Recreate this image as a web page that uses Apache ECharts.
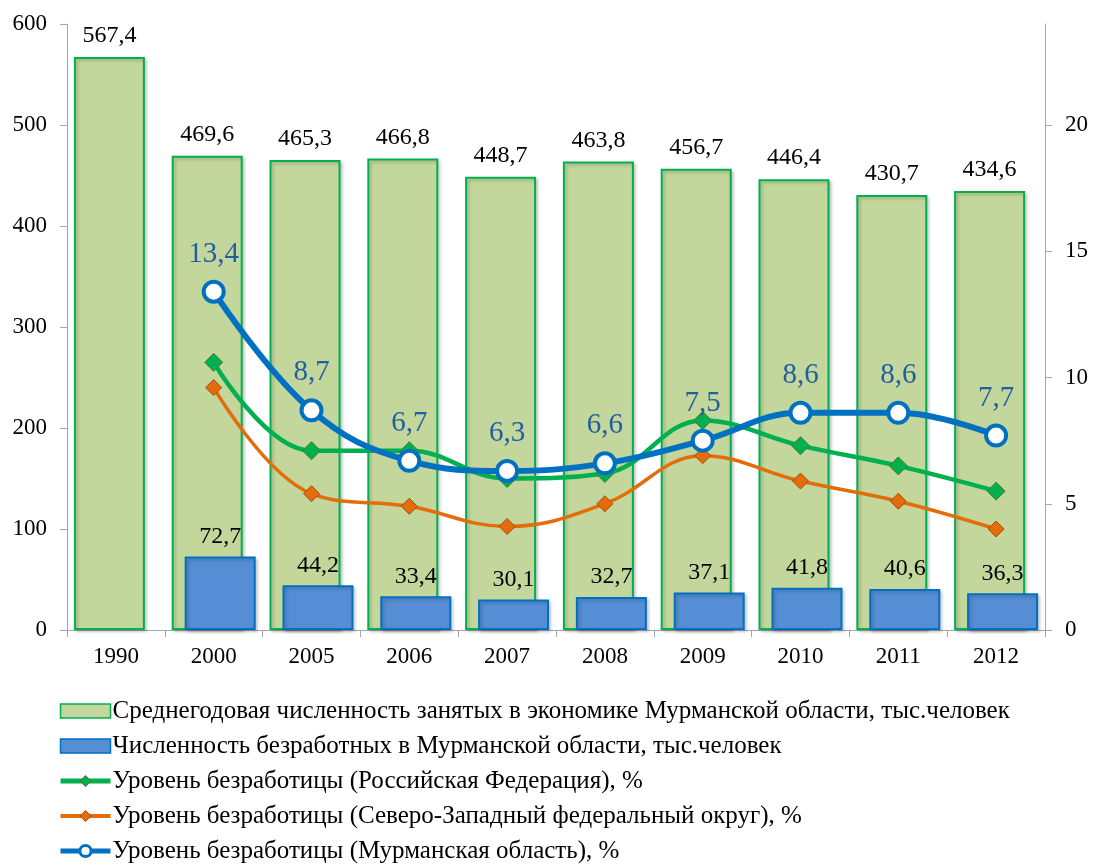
<!DOCTYPE html>
<html>
<head>
<meta charset="utf-8">
<script src="https://cdn.jsdelivr.net/npm/echarts@6/dist/echarts.min.js"></script>
<style>
html,body{margin:0;padding:0;background:#fff;}
#main{width:1093px;height:865px;}
</style>
</head>
<body>
<div id="main"></div>
<script>
// данные диаграммы
var years = ['1990','2000','2005','2006','2007','2008','2009','2010','2011','2012'];
var employed = [567.4,469.6,465.3,466.8,448.7,463.8,456.7,446.4,430.7,434.6];
var unemployed = [null,72.7,44.2,33.4,30.1,32.7,37.1,41.8,40.6,36.3];
var rateRF = [null,10.6,7.1,7.1,6.0,6.2,8.3,7.3,6.5,5.5];
var rateNW = [null,9.6,5.4,4.9,4.1,5.0,6.9,5.9,5.1,4.0];
var rateMurm = [null,13.4,8.7,6.7,6.3,6.6,7.5,8.6,8.6,7.7];
var leftTicks = [0,100,200,300,400,500,600];
var rightTicks = [0,5,10,15,20];

var names = [
	'Среднегодовая численность занятых в экономике Мурманской области, тыс.человек',
	'Численность безработных в Мурманской области, тыс.человек',
	'Уровень безработицы (Российская Федерация), %',
	'Уровень безработицы (Северо-Западный федеральный округ), %',
	'Уровень безработицы (Мурманская область), %'
];

var font = 'Liberation Serif';
function comma(p){
	return p.value.toFixed(1).replace('.', ',');
}

var myChart = echarts.init(document.getElementById('main'));

var options = {
	backgroundColor:'#fff',
	textStyle:{fontFamily:font},
	grid:{left:67,right:48,top:24,bottom:235},
	legend:{
		orient:'vertical',
		left:58,
		top:698,
		padding:0,
		itemWidth:50,
		itemHeight:14,
		itemGap:9,
		data:[
			{name:names[0],icon:'rect',itemStyle:{borderWidth:1.5}},
			{name:names[1],icon:'rect',itemStyle:{borderWidth:1.5}},
			{name:names[2],lineStyle:{width:5},itemStyle:{borderWidth:1}},
			{name:names[3],lineStyle:{width:4},itemStyle:{borderWidth:1}},
			{name:names[4],lineStyle:{width:5},itemStyle:{borderWidth:3}}
		],
		textStyle:{fontFamily:font,fontSize:25,lineHeight:26,color:'#000',padding:[0,0,0,-3]}
	},
	xAxis:{
		type:'category',
		data:years,
		axisLine:{lineStyle:{color:'#a6a6a6',width:1}},
		axisTick:{show:true,length:7,lineStyle:{color:'#a6a6a6'}},
		axisLabel:{fontFamily:font,fontSize:23,color:'#000',margin:15}
	},
	yAxis:[
		{
			type:'value',
			min:0,
			max:600,
			interval:100,
			splitLine:{show:false},
			axisLine:{show:true,lineStyle:{color:'#a6a6a6'}},
			axisTick:{show:true,length:7,lineStyle:{color:'#a6a6a6'},customValues:leftTicks},
			axisLabel:{fontFamily:font,fontSize:23,color:'#000',margin:20,customValues:leftTicks}
		},
		{
			type:'value',
			min:0,
			max:24,
			interval:5,
			splitLine:{show:false},
			axisLine:{show:true,lineStyle:{color:'#a6a6a6'}},
			axisTick:{show:true,length:7,lineStyle:{color:'#a6a6a6'},customValues:rightTicks},
			axisLabel:{fontFamily:font,fontSize:23,color:'#000',margin:20,customValues:rightTicks}
		}
	],
	series:[
		{
			name:names[0],
			type:'bar',
			data:employed,
			barWidth:71,
			barGap:'-81.7%',
			itemStyle:{color:'#c3d69b',borderColor:'#00b050',borderWidth:2,
				shadowColor:'rgba(0,0,0,0.2)',shadowBlur:3,shadowOffsetX:2,shadowOffsetY:2},
			label:{show:true,position:'top',distance:9,fontFamily:font,fontSize:24,color:'#000',formatter:comma},
			z:1
		},
		{
			name:names[1],
			type:'bar',
			data:unemployed,
			barWidth:71,
			itemStyle:{color:'#558ed5',borderColor:'#0070c0',borderWidth:2,
				shadowColor:'rgba(0,0,0,0.2)',shadowBlur:3,shadowOffsetX:2,shadowOffsetY:2},
			label:{show:true,position:'top',distance:8,fontFamily:font,fontSize:24,color:'#000',formatter:comma},
			z:2
		},
		{
			name:names[2],
			type:'line',
			yAxisIndex:1,
			data:rateRF,
			smooth:0.4,
			symbol:'diamond',
			symbolSize:18,
			lineStyle:{color:'#00b050',width:4.5},
			itemStyle:{color:'#00b050',borderColor:'#4f7a28',borderWidth:1},
			z:3
		},
		{
			name:names[3],
			type:'line',
			yAxisIndex:1,
			data:rateNW,
			smooth:0.4,
			symbol:'diamond',
			symbolSize:16,
			lineStyle:{color:'#e46c0a',width:3.5},
			itemStyle:{color:'#e46c0a',borderColor:'#a05010',borderWidth:1},
			z:3
		},
		{
			name:names[4],
			type:'line',
			yAxisIndex:1,
			data:rateMurm,
			smooth:0.4,
			symbol:'circle',
			symbolSize:20,
			lineStyle:{color:'#0070c0',width:6},
			itemStyle:{color:'#fff',borderColor:'#0070c0',borderWidth:4},
			label:{show:true,position:'top',distance:11,fontFamily:font,fontSize:29,color:'#1f5f9f',formatter:comma},
			z:4
		}
	]
};
myChart.setOption(options);
</script>
</body>
</html>
